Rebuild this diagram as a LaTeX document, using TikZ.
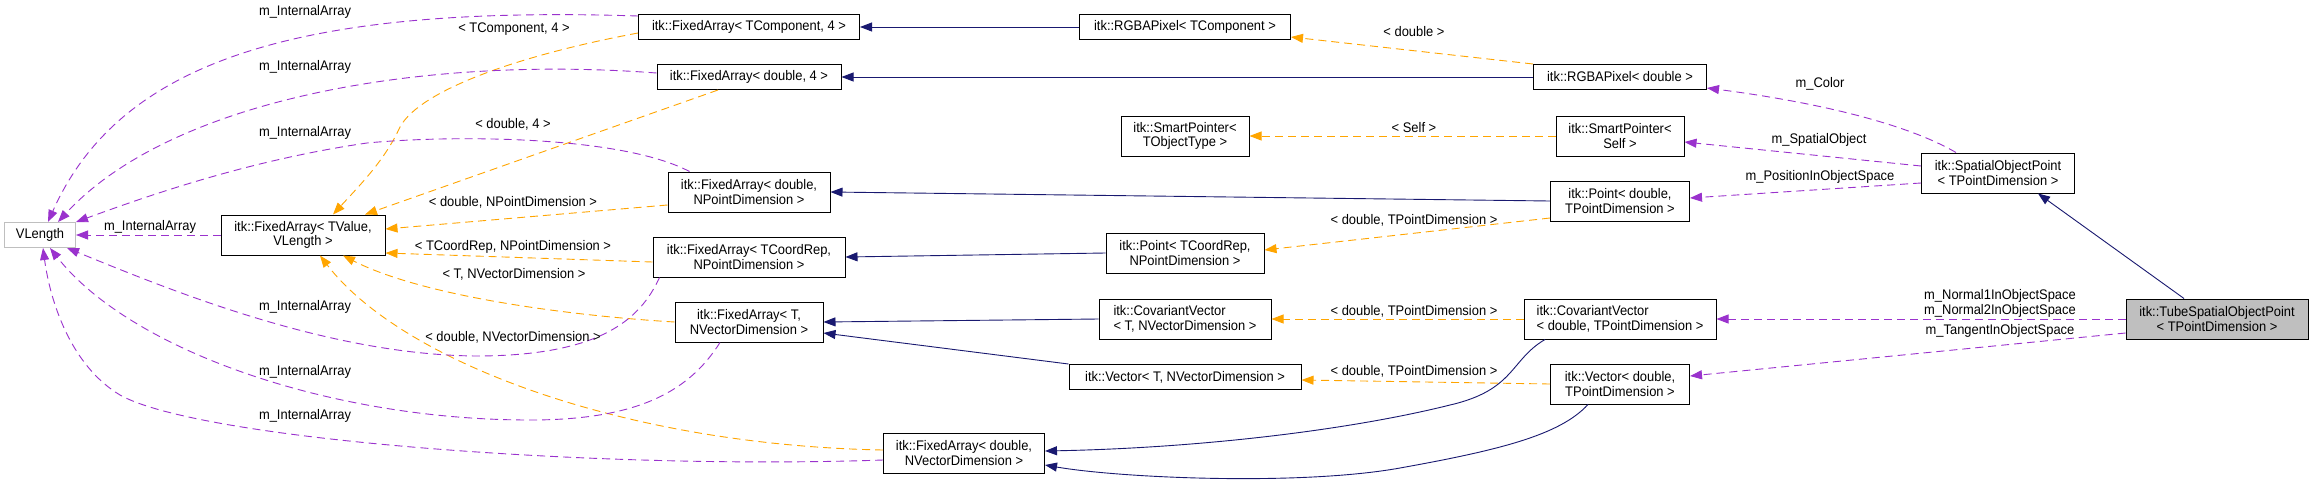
\documentclass[tikz,border=0pt]{standalone}
\usepackage{fontspec}
\setmainfont{Liberation Sans}[FakeStretch=0.93]
\usepackage{tikz}
\usetikzlibrary{arrows.meta,calc}
\definecolor{usepurple}{RGB}{154,50,205}
\definecolor{tmplorange}{RGB}{255,165,0}
\definecolor{inhnavy}{RGB}{25,25,112}
\definecolor{boxgray}{RGB}{191,191,191}
\tikzset{
  classbox/.style={
    draw=black,fill=white,line width=1pt,inner sep=0pt,align=center,
    minimum height=25
  },
  classtwo/.style={classbox,minimum height=40},
  tubebox/.style={classtwo,fill=boxgray},
  extbox/.style={classbox,draw=boxgray},
  inheritarrow/.style={-{Triangle[length=12pt,width=9pt]},draw=inhnavy,line width=0.9pt},
  tmplarrow/.style={-{Triangle[length=12pt,width=9pt]},draw=tmplorange,line width=0.9pt,
    dash pattern=on 8pt off 5pt},
  usearrow/.style={-{Triangle[length=12pt,width=9pt]},draw=usepurple,line width=0.9pt,
    dash pattern=on 8pt off 5pt},
  edgelabel/.style={inner sep=0pt,align=center}
}

\begin{document}
\begin{tikzpicture}[x=1pt,y=-1pt,font=\fontsize{13.9}{14.5}\selectfont]
  \useasboundingbox[fill=white] (0,0) rectangle (2313,480);
  % classes
  \node[extbox,minimum width=71] (vlen) at (40,235) {VLength};
  \node[classtwo,minimum width=164] (fatv) at (303,235) {itk::FixedArray< TValue,\\VLength >};
  \node[classbox,minimum width=221] (fatc) at (749,27) {itk::FixedArray< TComponent, 4 >};
  \node[classbox,minimum width=184] (fad4) at (749,77) {itk::FixedArray< double, 4 >};
  \node[classtwo,minimum width=162] (fadnp) at (749,192) {itk::FixedArray< double,\\NPointDimension >};
  \node[classtwo,minimum width=192] (fatcr) at (749,257) {itk::FixedArray< TCoordRep,\\NPointDimension >};
  \node[classtwo,minimum width=148] (fatnv) at (749,322) {itk::FixedArray< T,\\NVectorDimension >};
  \node[classtwo,minimum width=161] (fadnv) at (964,453) {itk::FixedArray< double,\\NVectorDimension >};
  \node[classbox,minimum width=211] (rgbtc) at (1185,27) {itk::RGBAPixel< TComponent >};
  \node[classtwo,minimum width=128] (sptot) at (1185,136) {itk::SmartPointer<\\TObjectType >};
  \node[classtwo,minimum width=158] (pttcr) at (1185,253) {itk::Point< TCoordRep,\\NPointDimension >};
  \node[classtwo,minimum width=172,align=left] (cvtnv) at (1185,319) {itk::CovariantVector\\< T, NVectorDimension >};
  \node[classbox,minimum width=232] (vctnv) at (1185,377) {itk::Vector< T, NVectorDimension >};
  \node[classbox,minimum width=173] (rgbd) at (1620,77) {itk::RGBAPixel< double >};
  \node[classtwo,minimum width=128] (spself) at (1620,136) {itk::SmartPointer<\\Self >};
  \node[classtwo,minimum width=139] (ptdtp) at (1620,201) {itk::Point< double,\\TPointDimension >};
  \node[classtwo,minimum width=192,align=left] (cvdtp) at (1620,319) {itk::CovariantVector\\< double, TPointDimension >};
  \node[classtwo,minimum width=139] (vcdtp) at (1620,384) {itk::Vector< double,\\TPointDimension >};
  \node[classtwo,minimum width=153] (sop) at (1998,173) {itk::SpatialObjectPoint\\< TPointDimension >};
  \node[tubebox,minimum width=182] (tube) at (2217,319) {itk::TubeSpatialObjectPoint\\< TPointDimension >};
  % inheritance
  \draw[inheritarrow] (rgbtc.west) -- (fatc.east);
  \draw[inheritarrow] (rgbd.west) -- (fad4.east);
  \draw[inheritarrow] (ptdtp.west) -- (fadnp.east);
  \draw[inheritarrow] (pttcr.west) -- (fatcr.east);
  \draw[inheritarrow] (cvtnv.west) -- (fatnv.east);
  \draw[inheritarrow] (vctnv.north west) -- ([yshift=-11pt]fatnv.east);
  \draw[inheritarrow] ([xshift=-75pt]cvdtp.south) .. controls (1510,360) and (1515,390) .. (1450,405)
    .. controls (1350,430) and (1200,448) .. ([yshift=2pt]fadnv.east);
  \draw[inheritarrow] ([xshift=-32pt]vcdtp.south) .. controls (1560,435) and (1500,450) .. (1400,468)
    .. controls (1300,486) and (1120,478) .. ([yshift=-12pt]fadnv.east);
  \draw[inheritarrow] ([xshift=-33pt]tube.north) -- ([xshift=40pt]sop.south);
  % template arguments
  \draw[tmplarrow] ([yshift=-6pt]fatc.west) .. controls (520,55) and (420,90) .. (400,127)
    .. controls (385,160) and (360,185) .. ([xshift=30pt]fatv.north);
  \draw[tmplarrow] ([xshift=-31pt]fad4.south) -- ([xshift=62pt]fatv.north);
  \draw[tmplarrow] ([yshift=-13pt]fadnp.west) -- ([yshift=6pt]fatv.east);
  \draw[tmplarrow] ([yshift=-5pt]fatcr.west) -- ([yshift=-18pt]fatv.east);
  \draw[tmplarrow] (fatnv.west) .. controls (560,315) and (420,295) .. ([xshift=40pt]fatv.south);
  \draw[tmplarrow] ([yshift=3pt]fadnv.west) .. controls (620,445) and (400,360) .. ([xshift=17pt]fatv.south);
  \draw[tmplarrow] (rgbd.north west) -- ([yshift=-10pt]rgbtc.east);
  \draw[tmplarrow] (spself.west) -- (sptot.east);
  \draw[tmplarrow] ([yshift=-17pt]ptdtp.west) -- ([yshift=3pt]pttcr.east);
  \draw[tmplarrow] (cvdtp.west) -- (cvtnv.east);
  \draw[tmplarrow] (vcdtp.west) -- ([yshift=-3pt]vctnv.east);
  % members
  \draw[usearrow] ([yshift=11pt]fatc.west) .. controls (300,5) and (120,60) .. ([xshift=8pt]vlen.north);
  \draw[usearrow] ([yshift=4pt]fad4.west) .. controls (420,55) and (170,100) .. ([xshift=18pt]vlen.north);
  \draw[usearrow] ([xshift=22pt]fadnp.north west) .. controls (620,135) and (450,135) .. (367,143)
    .. controls (250,160) and (150,195) .. (vlen.north east);
  \draw[usearrow] (fatv.west) -- (vlen.east);
  \draw[usearrow] ([xshift=7pt]fatcr.south west) .. controls (640,320) and (600,355) .. (480,356)
    .. controls (330,356) and (170,290) .. ([xshift=-9pt]vlen.south east);
  \draw[usearrow] ([xshift=-29pt]fatnv.south) .. controls (690,390) and (640,420) .. (530,420)
    .. controls (330,420) and (130,350) .. ([xshift=10pt]vlen.south);
  \draw[usearrow] ([yshift=-7pt]fadnv.west) .. controls (600,470) and (200,440) .. (120,395)
    .. controls (70,365) and (50,300) .. ([xshift=3pt]vlen.south);
  \draw[usearrow] ([xshift=-42pt]sop.north) .. controls (1900,120) and (1800,100) .. ([yshift=-11pt]rgbd.east);
  \draw[usearrow] ([yshift=7pt]sop.west) -- ([yshift=-6pt]spself.east);
  \draw[usearrow] ([yshift=-10pt]sop.west) -- ([yshift=3pt]ptdtp.east);
  \draw[usearrow] (tube.west) -- (cvdtp.east);
  \draw[usearrow] ([yshift=-14pt]tube.west) -- ([yshift=8pt]vcdtp.east);
  % labels
  \node[edgelabel] (lia1) at (305,12) {m\_InternalArray};
  \node[edgelabel] (lia2) at (305,67) {m\_InternalArray};
  \node[edgelabel] (lia3) at (305,133) {m\_InternalArray};
  \node[edgelabel] (lia4) at (150,227) {m\_InternalArray};
  \node[edgelabel] (lia5) at (305,307) {m\_InternalArray};
  \node[edgelabel] (lia6) at (305,372) {m\_InternalArray};
  \node[edgelabel] (lia7) at (305,416) {m\_InternalArray};
  \node[edgelabel] (ltc) at (514,29) {< TComponent, 4 >};
  \node[edgelabel] (ld4) at (513,124) {< double, 4 >};
  \node[edgelabel] (ldnp) at (513,202) {< double, NPointDimension >};
  \node[edgelabel] (ltcr) at (513,247) {< TCoordRep, NPointDimension >};
  \node[edgelabel] (ltnv) at (514,274) {< T, NVectorDimension >};
  \node[edgelabel] (ldnv) at (513,337) {< double, NVectorDimension >};
  \node[edgelabel] (ldbl) at (1414,32) {< double >};
  \node[edgelabel] (lself) at (1414,128) {< Self >};
  \node[edgelabel] (ldtp1) at (1414,220) {< double, TPointDimension >};
  \node[edgelabel] (ldtp2) at (1414,311) {< double, TPointDimension >};
  \node[edgelabel] (ldtp3) at (1414,371) {< double, TPointDimension >};
  \node[edgelabel] (lcolor) at (1820,84) {m\_Color};
  \node[edgelabel] (lspobj) at (1819,140) {m\_SpatialObject};
  \node[edgelabel] (lpos) at (1820,177) {m\_PositionInObjectSpace};
  \node[edgelabel] (lnorm) at (2000,303.5) {m\_Normal1InObjectSpace\\m\_Normal2InObjectSpace};
  \node[edgelabel] (ltan) at (2000,331) {m\_TangentInObjectSpace};
\end{tikzpicture}
\end{document}
